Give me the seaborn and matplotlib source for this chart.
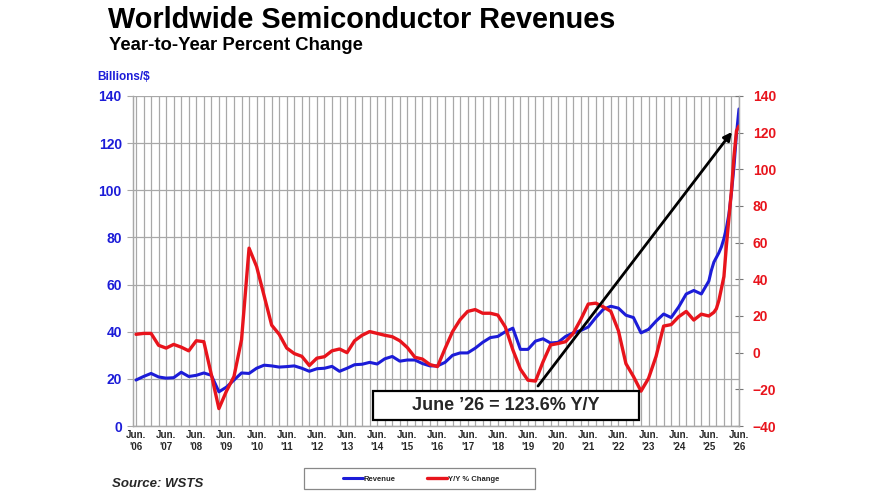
import matplotlib
matplotlib.use('Agg')
import matplotlib.pyplot as plt
from matplotlib.lines import Line2D
from matplotlib.patches import Rectangle
import seaborn as sns
import pandas as pd

# months counted from Jun. 2006: quarterly points, monthly for the last year
months = list(range(0, 228, 3)) + list(range(228, 241))

# monthly revenue, billions of dollars
revenue = [19.5, 21, 22.3, 20.8, 20.3, 20.5, 22.8, 21, 21.5, 22.5,
           21.5, 14.5, 16.5, 19.5, 22.5, 22.3, 24.5, 25.8, 25.5, 25,
           25.2, 25.5, 24.5, 23.2, 24.3, 24.5, 25.3, 23.2, 24.5, 26,
           26.2, 27, 26.3, 28.5, 29.5, 27.5, 28, 28, 26.5, 25.5,
           25.5, 27, 30, 31, 31, 33, 35.5, 37.5, 38, 40,
           41.5, 32.5, 32.5, 36, 37, 35.2, 35.5, 38, 39.5, 40.5,
           42, 46, 49.5, 50.8, 50, 47, 46, 39.5, 41, 44.5,
           47.5, 46, 50.5, 56, 57.5, 56,
           61.5, 66, 69.5, 71.5, 73.5, 76, 79.5, 84, 90, 99, 110, 124, 134.5]

# year-to-year percent change
yoy = [10, 10.5, 10.5, 4, 2.5, 4.5, 3, 1, 6.5, 6,
       -12, -30.5, -21, -13, 7, 57, 47, 31, 15, 10,
       2.5, -0.5, -2, -7, -3, -2.2, 1, 2, 0, 6.5,
       9.5, 11.5, 10.5, 9.5, 8.7, 6.5, 2.8, -2.5, -3.5, -6.5,
       -7.6, 2.2, 11.5, 18, 22.5, 23.5, 21.5, 21.5, 20.5, 14,
       1.5, -9, -15, -15.5, -5, 4.2, 5, 6, 10.5, 18,
       26.5, 27, 25, 22.5, 12, -6, -13, -21, -14, -2,
       14.5, 15.3, 19.6, 22.5, 17.8, 21,
       20, 21, 22, 24, 28.5, 35, 41.5, 58.5, 73.5, 88.5, 107, 121, 123.6]

year_labels = ["'06", "'07", "'08", "'09", "'10", "'11", "'12", "'13", "'14", "'15",
               "'16", "'17", "'18", "'19", "'20", "'21", "'22", "'23", "'24", "'25", "'26"]

df = pd.DataFrame({'month': months, 'Revenue': revenue, 'YoY': yoy})

BLUE = '#1c1cd8'
RED = '#e8141c'
GRID = '#a8a8a8'

sns.set_style('white')
plt.rcParams['font.family'] = ['Liberation Sans', 'DejaVu Sans']

fig = plt.figure(figsize=(8.76, 4.93), dpi=100)
ax = fig.add_axes([0.1518, 0.1359, 0.6918, 0.6694])

sns.lineplot(data=df, x='month', y='Revenue', ax=ax, color=BLUE, lw=2.2, legend=False)
ax2 = ax.twinx()
sns.lineplot(data=df, x='month', y='YoY', ax=ax2, color=RED, lw=2.4, legend=False)

ax.set_xlim(-1.2, 240)
ax.set_ylim(0, 140)
ax2.set_ylim(-40, 140)

ax.set_yticks(range(0, 141, 20))
ax2.set_yticks(range(-40, 141, 20))
ax.set_xticks(range(0, 241, 12))
ax.set_xticks(range(0, 241, 3), minor=True)
ax.set_xticklabels(['Jun.\n' + y for y in year_labels], fontsize=7, fontweight='bold')

ax.grid(True, which='both', axis='x', color=GRID, lw=0.9)
ax.grid(True, which='major', axis='y', color=GRID, lw=0.9)
ax.set_axisbelow(True)
ax.set_xlabel('')
ax.set_ylabel('')
ax2.set_ylabel('')

ax.tick_params(axis='x', which='both', length=0, pad=3)
ax.tick_params(axis='y', length=4, color=GRID, labelcolor=BLUE, labelsize=10, pad=4)
ax2.tick_params(axis='y', length=6, direction='inout', color='#777777', labelcolor=RED,
                labelsize=10, pad=7)
for lab in ax.get_yticklabels() + ax2.get_yticklabels():
    lab.set_fontweight('bold')

for a in (ax, ax2):
    for side in ('top', 'left', 'bottom', 'right'):
        a.spines[side].set_color(GRID)
        a.spines[side].set_linewidth(0.9)
    a.spines['top'].set_visible(False)

# Titles
fig.text(0.123, 0.943, 'Worldwide Semiconductor Revenues', fontsize=20.8,
         fontweight='bold', va='baseline', color='black')
fig.text(0.124, 0.899, 'Year-to-Year Percent Change', fontsize=13.3,
         fontweight='bold', va='baseline', color='black')
fig.text(0.111, 0.838, 'Billions/$', fontsize=8.5, fontweight='bold',
         color=BLUE, va='baseline')
fig.text(0.128, 0.012, 'Source: WSTS', fontsize=9.5, fontweight='bold',
         fontstyle='italic', va='baseline')

# Annotation box and arrow
fig.patches.append(Rectangle((373 / 876, 1 - 420 / 493), 266 / 876, 29 / 493,
                             transform=fig.transFigure, facecolor='white',
                             edgecolor='black', lw=1.6, zorder=5))
fig.text(506 / 876, 1 - 406 / 493, 'June \u201926 = 123.6% Y/Y', fontsize=13,
         fontweight='bold', ha='center', va='center', zorder=6)
ax2.annotate('', xy=(237.2, 120.4), xytext=(160, -18.2),
             arrowprops=dict(arrowstyle='-|>', lw=2, color='black',
                             mutation_scale=12, shrinkA=0, shrinkB=0), zorder=7)

# Legend
fig.patches.append(Rectangle((304 / 876, 1 - 489 / 493), 231 / 876, 21 / 493,
                             transform=fig.transFigure, facecolor='white',
                             edgecolor='#888888', lw=0.9))
handles = [Line2D([], [], color=BLUE, lw=2.2), Line2D([], [], color=RED, lw=2.4)]
fig.legend(handles, ['Revenue', 'Y/Y % Change'], loc='center', ncol=2,
           bbox_to_anchor=(421 / 876, 1 - 479 / 493), frameon=False,
           prop={'size': 5.5, 'weight': 'bold'}, handlelength=2.6,
           handletextpad=0.1, columnspacing=4.2)

fig.savefig('out.png', dpi=100)
